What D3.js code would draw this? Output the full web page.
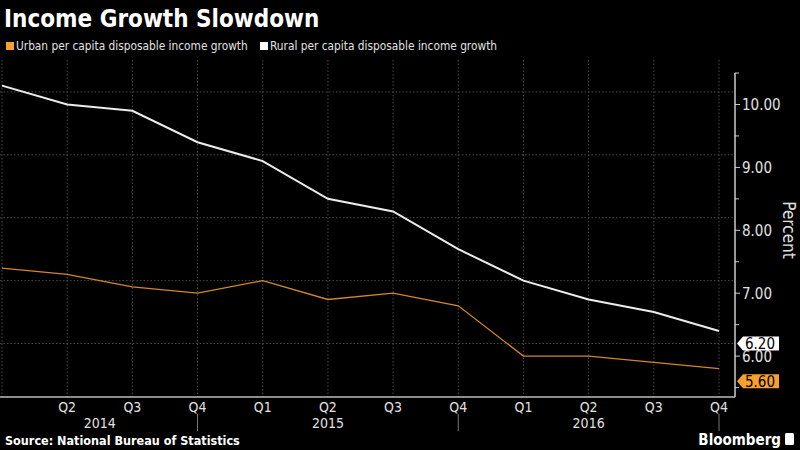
<!DOCTYPE html>
<html><head><meta charset="utf-8">
<script src="https://cdn.jsdelivr.net/npm/d3@7"></script>
<style>
body{margin:0;background:#000;}
svg{display:block;}
</style></head>
<body>
<svg id="c" width="800" height="450"></svg>
<script>
const quarters = ["Q1","Q2","Q3","Q4","Q1","Q2","Q3","Q4","Q1","Q2","Q3","Q4"];
const years = ["2014","2014","2014","2014","2015","2015","2015","2015","2016","2016","2016","2016"];
const rural = [10.1, 9.8, 9.7, 9.2, 8.9, 8.3, 8.1, 7.5, 7.0, 6.7, 6.5, 6.2];
const urban = [7.2, 7.1, 6.9, 6.8, 7.0, 6.7, 6.8, 6.6, 5.8, 5.8, 5.7, 5.6];
const yTicks = [6, 7, 8, 9, 10];
const yMinor = [5.5, 6.5, 7.5, 8.5, 9.5, 10.5];
const seriesNames = ["Urban per capita disposable income growth", "Rural per capita disposable income growth"];

const FONT = "'Liberation Sans Narrow','DejaVu Sans Condensed','Roboto',sans-serif";
const ORANGE = "#f7a030", LINEOR = "#d4862a", WHITE = "#ececec";
const svg = d3.select("#c");
svg.append("rect").attr("width",800).attr("height",450).attr("fill","#000");

const keys = quarters.map((q,i)=>years[i]+q);
const x = d3.scalePoint().domain(keys).range([2, 719]);
const y = d3.scaleLinear().domain([5.15, 10.48]).range([397, 61.7]);
const axisX = 735, offset = 12.6;

// gridlines
const g = svg.append("g");
g.selectAll("line.h").data(yTicks).join("line")
  .attr("x1",0).attr("x2",axisX).attr("y1",d=>y(d)).attr("y2",d=>y(d))
  .attr("stroke","#4a4a4a").attr("stroke-dasharray","1.5,2");
g.selectAll("line.v").data(keys).join("line")
  .attr("x1",d=>x(d)).attr("x2",d=>x(d)).attr("y1",60).attr("y2",397)
  .attr("stroke","#4a4a4a").attr("stroke-dasharray","1.5,2");

// lines
const line = d3.line().x((d,i)=>x(keys[i])).y(d=>y(d));
svg.append("path").datum(urban).attr("d",line).attr("fill","none").attr("stroke",LINEOR).attr("stroke-width",1.3);
svg.append("path").datum(rural).attr("d",line).attr("fill","none").attr("stroke",WHITE).attr("stroke-width",2);

// bottom axis line
svg.append("line").attr("x1",0).attr("x2",axisX).attr("y1",397).attr("y2",397).attr("stroke","#bbb").attr("stroke-width",1.5);

// right axis (shifted as in original)
const ya = svg.append("g").attr("transform",`translate(${axisX},${offset})`);
ya.append("line").attr("x1",0).attr("x2",0).attr("y1",y(10.5)).attr("y2",397-offset).attr("stroke","#ccc").attr("stroke-width",1.5);
ya.selectAll("line.mj").data(yTicks).join("line").attr("x1",0).attr("x2",5).attr("y1",d=>y(d)).attr("y2",d=>y(d)).attr("stroke","#ccc");
ya.selectAll("line.mn").data(yMinor).join("line").attr("x1",0).attr("x2",4).attr("y1",d=>y(d)).attr("y2",d=>y(d)).attr("stroke","#ccc");
ya.selectAll("text").data(yTicks).join("text").attr("x",7).attr("y",d=>y(d)).attr("dy","0.36em")
  .attr("fill","#e0e0e0").attr("font-family",FONT).attr("font-size",15).text(d=>d3.format(".2f")(d));

// x labels
svg.selectAll("text.q").data(keys.slice(1)).join("text").attr("class","q")
  .attr("x",d=>x(d)).attr("y",412).attr("text-anchor","middle")
  .attr("fill","#e0e0e0").attr("font-family",FONT).attr("font-size",14).text((d,i)=>quarters[i+1]);
const yearList = ["2014","2015","2016"];
const yearSpan = yearList.map(yr=>{
  const idx = keys.map((k,i)=>i).filter(i=>years[i]===yr);
  const end = x(keys[idx[idx.length-1]]);
  const start = yr==="2014" ? x(keys[0]) : x(keys[idx[0]-1]);
  return {yr, start, end};
});
svg.selectAll("text.yr").data(yearSpan).join("text")
  .attr("x",d=>(d.start+d.end)/2).attr("y",428).attr("text-anchor","middle")
  .attr("fill","#e0e0e0").attr("font-family",FONT).attr("font-size",14).text(d=>d.yr);
svg.selectAll("line.sep").data(yearSpan).join("line")
  .attr("x1",d=>d.end).attr("x2",d=>d.end).attr("y1",414).attr("y2",431).attr("stroke","#777");

// end labels
function endLabel(val, fill){
  const cy = y(val)+offset;
  const gl = svg.append("g");
  gl.append("path").attr("d",`M737,${cy} L743,${cy-7} L779,${cy-7} L779,${cy+7} L743,${cy+7} Z`).attr("fill",fill);
  gl.append("text").attr("x",745).attr("y",cy).attr("dy","0.36em").attr("fill","#000")
    .attr("font-family",FONT).attr("font-size",15).text(d3.format(".2f")(val));
}
endLabel(rural[rural.length-1], "#fff");
endLabel(urban[urban.length-1], ORANGE);

// Percent label
svg.append("text").attr("transform","translate(783,230) rotate(90)").attr("text-anchor","middle")
  .attr("fill","#e0e0e0").attr("font-family",FONT).attr("font-size",17).text("Percent");

// title
svg.append("text").attr("x",4).attr("y",27).attr("fill","#fff").attr("font-family","'DejaVu Sans Condensed','DejaVu Sans',sans-serif")
  .attr("font-weight","bold").attr("font-size",24).text("Income Growth Slowdown");

// legend
const lg = svg.append("g").attr("font-family",FONT).attr("font-size",11.8).attr("fill","#e0e0e0");
lg.append("rect").attr("x",6).attr("y",42).attr("width",8).attr("height",8).attr("fill",ORANGE);
lg.append("text").attr("x",16).attr("y",50).text(seriesNames[0]);
lg.append("rect").attr("x",260).attr("y",42).attr("width",8).attr("height",8).attr("fill","#fff");
lg.append("text").attr("x",270).attr("y",50).text(seriesNames[1]);

// footer
svg.append("text").attr("x",5).attr("y",445).attr("fill","#fff").attr("font-family",FONT)
  .attr("font-weight","bold").attr("font-size",12.5).text("Source: National Bureau of Statistics");
svg.append("text").attr("x",781).attr("y",445).attr("text-anchor","end").attr("fill","#fff").attr("font-family",FONT)
  .attr("font-weight","bold").attr("font-size",15).text("Bloomberg");
svg.append("rect").attr("x",785).attr("y",433).attr("width",9).attr("height",12).attr("rx",1.5).attr("fill","#fff");
</script>
</body></html>
